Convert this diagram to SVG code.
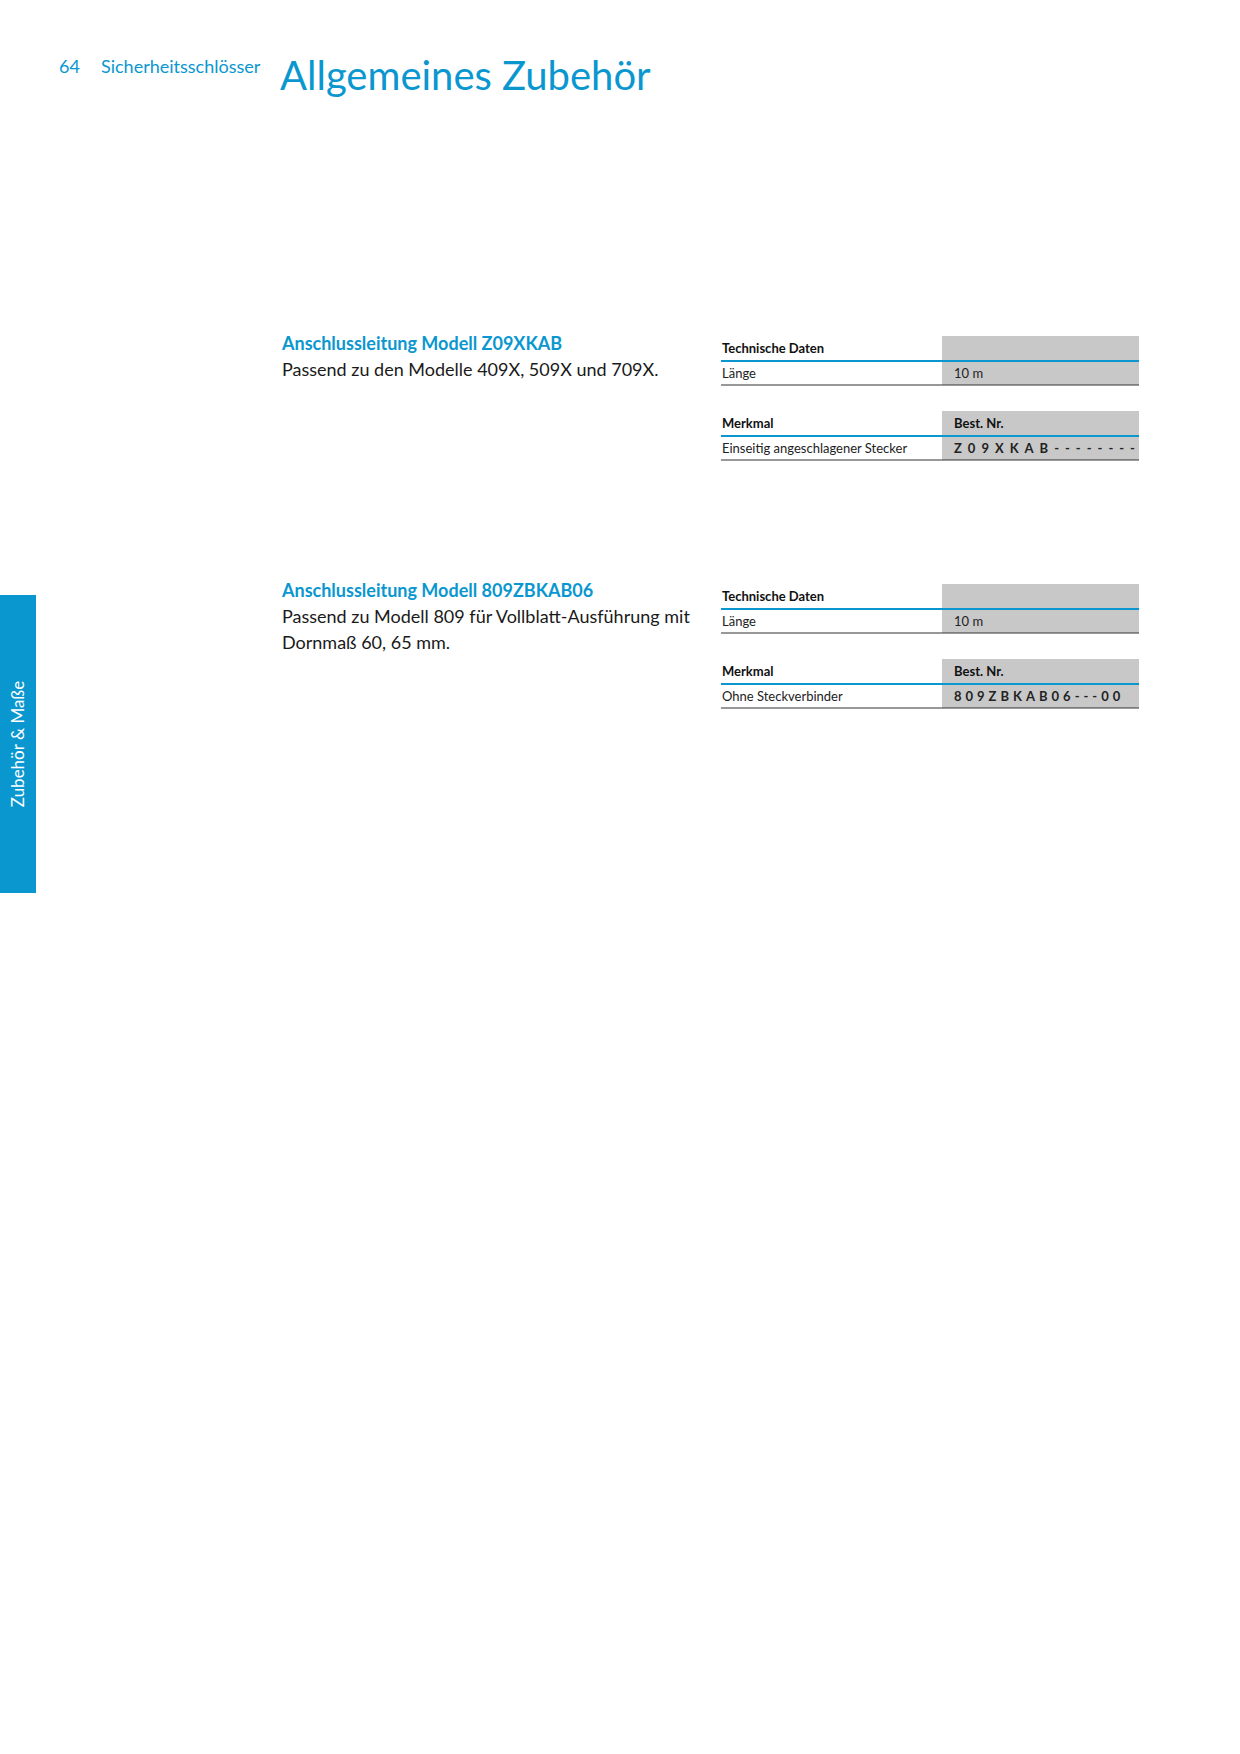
<svg xmlns="http://www.w3.org/2000/svg" width="1240" height="1754" viewBox="0 0 1240 1754">
<style>
text{font-family:Lato,"Liberation Sans",sans-serif}
.b{fill:#0a97d0}
.h{font-size:18px;font-weight:bold;fill:#0a97d0}
.d{font-size:18px;fill:#1a1a1a}
.th{font-size:13px;font-weight:bold;fill:#111}
.td{font-size:13px;fill:#222}
.code{font-size:13px;font-weight:bold;fill:#222;letter-spacing:4px}
.g{fill:#c8c8c8}
.bl{stroke:#0a97d0;stroke-width:2}
.k{stroke:#333;stroke-width:1.2}
</style>
<rect width="1240" height="1754" fill="#fff"/>
<text x="59" y="73" class="b" font-size="18">64</text>
<text x="101" y="73" class="b" font-size="18">Sicherheitsschlösser</text>
<text x="280" y="90" class="b" font-size="40">Allgemeines Zubehör</text>
<g id="sidebar"><rect x="0" y="595" width="36" height="298" fill="#0a97d0"/>
<text transform="translate(24,744) rotate(-90)" text-anchor="middle" font-size="17" fill="#fff">Zubehör &amp; Maße</text></g>
<g id="item1">
<text x="282" y="350" class="h">Anschlussleitung Modell Z09XKAB</text>
<text x="282" y="376" class="d">Passend zu den Modelle 409X, 509X und 709X.</text>
<rect x="942" y="336" width="197" height="49" class="g"/>
<line x1="721" y1="361" x2="1139" y2="361" class="bl"/>
<line x1="721" y1="385" x2="1139" y2="385" class="k"/>
<text x="722" y="353" class="th">Technische Daten</text>
<text x="722" y="378" class="td">Länge</text>
<text x="954" y="378" class="td">10 m</text>
<rect x="942" y="411" width="197" height="49" class="g"/>
<line x1="721" y1="436" x2="1139" y2="436" class="bl"/>
<line x1="721" y1="460" x2="1139" y2="460" class="k"/>
<text x="722" y="428" class="th">Merkmal</text>
<text x="954" y="428" class="th">Best. Nr.</text>
<text x="722" y="453" class="td">Einseitig angeschlagener Stecker</text>
<text x="954" y="453" class="code" style="letter-spacing:6px">Z09XKAB--------</text>
</g>
<g id="item2">
<text x="282" y="597" class="h">Anschlussleitung Modell 809ZBKAB06</text>
<text x="282" y="623" class="d">Passend zu Modell 809 für Vollblatt-Ausführung mit</text>
<text x="282" y="649" class="d">Dornmaß 60, 65 mm.</text>
<rect x="942" y="584" width="197" height="49" class="g"/>
<line x1="721" y1="609" x2="1139" y2="609" class="bl"/>
<line x1="721" y1="633" x2="1139" y2="633" class="k"/>
<text x="722" y="601" class="th">Technische Daten</text>
<text x="722" y="626" class="td">Länge</text>
<text x="954" y="626" class="td">10 m</text>
<rect x="942" y="659" width="197" height="49" class="g"/>
<line x1="721" y1="684" x2="1139" y2="684" class="bl"/>
<line x1="721" y1="708" x2="1139" y2="708" class="k"/>
<text x="722" y="676" class="th">Merkmal</text>
<text x="954" y="676" class="th">Best. Nr.</text>
<text x="722" y="701" class="td">Ohne Steckverbinder</text>
<text x="954" y="701" class="code">809ZBKAB06---00</text>
</g>
</svg>
